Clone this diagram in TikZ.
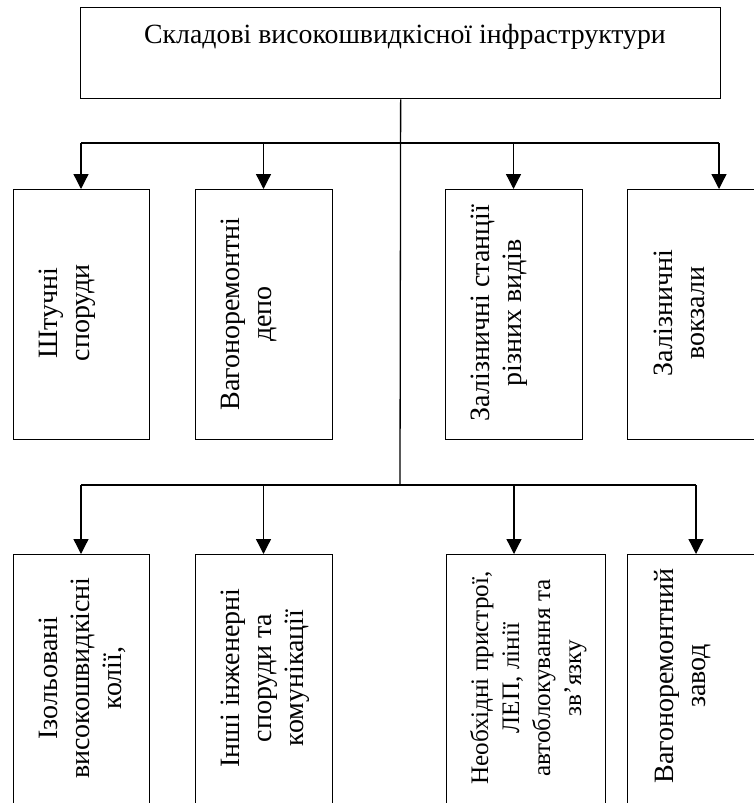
\documentclass[tikz,border=0pt]{standalone}
\usepackage{fontspec}
\setmainfont{Liberation Serif}
\usetikzlibrary{arrows.meta}
\begin{document}
\begin{tikzpicture}[x=1pt,y=-1pt,
  box/.style={draw, line width=1.3pt, rectangle, inner sep=0pt, anchor=north west},
  lbl/.style={rotate=90, anchor=north, align=center, inner sep=0pt, font=\fontsize{28}{32}\selectfont},
  smalllbl/.style={lbl, font=\fontsize{25.2}{31}\selectfont},
  ttlstyle/.style={anchor=base, inner sep=0pt, font=\fontsize{27.8}{32}\selectfont},
  arr/.style={-{Triangle[width=15pt,length=15pt]}, line width=1.3pt},
  ln/.style={line width=1.3pt}]
\useasboundingbox (0,0) rectangle (754,803);
\clip (0,0) rectangle (754,803);
% top box
\node[box, minimum width=640pt, minimum height=91pt] (top) at (80,7) {};
\node[ttlstyle] (ttl) at (405,43) {Складові високошвидкісної інфраструктури};
% upper row
\node[box, minimum width=136pt, minimum height=250pt] (b1) at (13,189) {};
\node[box, minimum width=137pt, minimum height=250pt] (b2) at (195,189) {};
\node[box, minimum width=137pt, minimum height=250pt] (b3) at (445,189) {};
\node[box, minimum width=137pt, minimum height=250pt] (b4) at (627,189) {};
% lower row
\node[box, minimum width=136pt, minimum height=262pt] (b5) at (13,554) {};
\node[box, minimum width=137pt, minimum height=262pt] (b6) at (195,554) {};
\node[box, minimum width=159pt, minimum height=262pt] (b7) at (446,554) {};
\node[box, minimum width=137pt, minimum height=262pt] (b8) at (627,554) {};
% texts
\node[lbl] (t1) at (39,313) {Штучні\\споруди};
\node[lbl] (t2) at (221,314) {Вагоноремонтні\\депо};
\node[lbl] (t3) at (471,313) {Залізничні станції\\різних видів};
\node[lbl] (t4) at (654,313) {Залізничні\\вокзали};
\node[lbl] (t5) at (39,678) {Ізольовані\\високошвидкісні\\колії,};
\node[lbl] (t6) at (221,678) {Інші інженерні\\споруди та\\комунікації};
\node[smalllbl] (t7) at (470,678) {Необхідні пристрої,\\ЛЕП, лінії\\автоблокування та\\зв’язку};
\node[lbl] (t8) at (654,676) {Вагоноремонтний\\завод};
% connectors
\coordinate (hl) at (400,485);
\coordinate (ju1) at (81,143);
\coordinate (ju2) at (263.5,143);
\coordinate (ju3) at (513.5,143);
\coordinate (ju4) at (719,143);
\coordinate (jl5) at (81,485);
\coordinate (jl6) at (263.5,485);
\coordinate (jl7) at (514,485);
\coordinate (jl8) at (696,485);
\draw[ln] (top.south) -- (hl);
\draw[ln] (ju1) -- (ju4);
\draw[ln] (jl5) -- (jl8);
\draw[arr] (ju1) -- (ju1 |- b1.north);
\draw[arr] (ju2) -- (ju2 |- b2.north);
\draw[arr] (ju3) -- (ju3 |- b3.north);
\draw[arr] (ju4) -- (ju4 |- b4.north);
\draw[arr] (jl5) -- (jl5 |- b5.north);
\draw[arr] (jl6) -- (jl6 |- b6.north);
\draw[arr] (jl7) -- (jl7 |- b7.north);
\draw[arr] (jl8) -- (jl8 |- b8.north);
\end{tikzpicture}
\end{document}
